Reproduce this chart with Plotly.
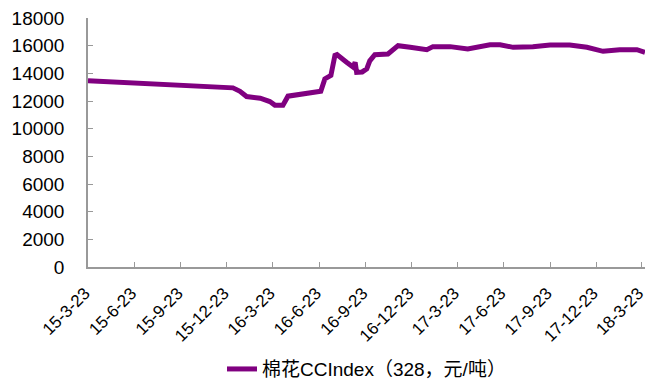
import plotly.graph_objects as go

dates = [
    "2015-03-23", "2015-05-05", "2015-06-24", "2015-08-12", "2015-10-11",
    "2015-11-29", "2016-01-04", "2016-01-18", "2016-01-31", "2016-02-27",
    "2016-03-17", "2016-03-27", "2016-04-12", "2016-04-22", "2016-05-16",
    "2016-06-26", "2016-07-04", "2016-07-16", "2016-07-24", "2016-07-28",
    "2016-08-16", "2016-08-29", "2016-09-02", "2016-09-05", "2016-09-16",
    "2016-09-25", "2016-10-01", "2016-10-11", "2016-11-06", "2016-11-26",
    "2016-12-20", "2017-01-22", "2017-02-03", "2017-03-09", "2017-04-13",
    "2017-05-27", "2017-06-16", "2017-07-12", "2017-08-20", "2017-09-23",
    "2017-11-01", "2017-12-05", "2018-01-06", "2018-02-08", "2018-03-14",
    "2018-03-30",
]
values = [
    13470, 13400, 13300, 13150, 13080,
    13000, 12950, 12700, 12320, 12200,
    11960, 11700, 11700, 12350, 12500,
    12700, 13600, 13850, 15300, 15350,
    14800, 14450, 14800, 14070, 14100,
    14320, 14900, 15350, 15400, 16000,
    15880, 15710, 15930, 15930, 15760,
    16070, 16070, 15880, 15930, 16050,
    16050, 15880, 15590, 15710, 15710,
    15520,
]

tick_dates = [
    "2015-03-23", "2015-06-23", "2015-09-23", "2015-12-23", "2016-03-23",
    "2016-06-23", "2016-09-23", "2016-12-23", "2017-03-23", "2017-06-23",
    "2017-09-23", "2017-12-23", "2018-03-23",
]
tick_labels = [
    "15-3-23", "15-6-23", "15-9-23", "15-12-23", "16-3-23", "16-6-23",
    "16-9-23", "16-12-23", "17-3-23", "17-6-23", "17-9-23", "17-12-23",
    "18-3-23",
]
y_ticks = list(range(0, 18001, 2000))
y_labels = [str(v) for v in y_ticks]
series_name = "棉花CCIndex（328，元/吨）"

fig = go.Figure()
fig.add_trace(go.Scatter(
    x=dates, y=values, mode="lines", name=series_name,
    line=dict(color="#800080", width=5),
))

fig.update_layout(
    width=646, height=380,
    margin=dict(l=88, r=1, t=18, b=113, autoexpand=False),
    paper_bgcolor="white", plot_bgcolor="white",
    font=dict(family="Liberation Sans, Arial, sans-serif", size=17, color="#000000"),
    showlegend=True,
    legend=dict(
        orientation="h", x=0.5, xanchor="center", y=-0.41, yanchor="middle",
        font=dict(size=19, family="Liberation Sans, Noto Sans CJK SC, sans-serif"),
    ),
    xaxis=dict(
        type="date", range=["2015-03-23", "2018-03-30"],
        tickvals=tick_dates, ticktext=tick_labels, tickangle=-45,
        showgrid=False, zeroline=False, showline=True, automargin=False,
        linecolor="#999999", linewidth=1.5,
        ticks="inside", ticklen=5, tickcolor="#999999",
        tickfont=dict(size=17), ticklabelstandoff=8, ticklabelshift=-3,
        ticklabeloverflow="allow",
    ),
    yaxis=dict(
        range=[0, 18000], tickvals=y_ticks, ticktext=y_labels,
        showgrid=False, zeroline=False, showline=True, automargin=False,
        linecolor="#999999", linewidth=1.5,
        ticks="inside", ticklen=5, tickcolor="#999999",
        tickfont=dict(size=19), ticklabelstandoff=18,
    ),
)

fig.write_html(
    "out.html",
    config={"displayModeBar": False},
    post_script="document.body.style.margin='0';",
)
